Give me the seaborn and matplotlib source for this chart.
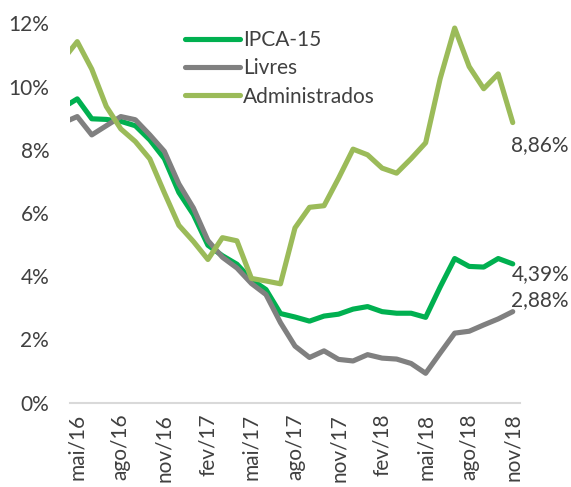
import numpy as np
import pandas as pd
import matplotlib
matplotlib.use("Agg")
import matplotlib.pyplot as plt
import seaborn as sns

# ---- data -------------------------------------------------------------
months = ["abr/16", "mai/16", "jun/16", "jul/16", "ago/16", "set/16", "out/16", "nov/16",
          "dez/16", "jan/17", "fev/17", "mar/17", "abr/17", "mai/17", "jun/17", "jul/17",
          "ago/17", "set/17", "out/17", "nov/17", "dez/17", "jan/18", "fev/18", "mar/18",
          "abr/18", "mai/18", "jun/18", "jul/18", "ago/18", "set/18", "out/18", "nov/18"]

ipca15 = [9.33, 9.61, 8.98, 8.96, 8.90, 8.76, 8.31, 7.72, 6.65, 5.95, 4.98, 4.65, 4.38,
          3.89, 3.58, 2.82, 2.71, 2.58, 2.74, 2.80, 2.96, 3.04, 2.88, 2.83, 2.83, 2.70,
          3.66, 4.56, 4.31, 4.29, 4.56, 4.39]
livres = [8.85, 9.05, 8.47, 8.76, 9.05, 8.95, 8.47, 7.95, 6.92, 6.16, 5.13, 4.60, 4.26,
          3.77, 3.42, 2.53, 1.79, 1.43, 1.64, 1.37, 1.32, 1.52, 1.41, 1.38, 1.24, 0.93,
          1.57, 2.20, 2.26, 2.46, 2.65, 2.88]
administrados = [10.84, 11.42, 10.55, 9.37, 8.66, 8.26, 7.71, 6.64, 5.61, 5.10, 4.53, 5.22,
                 5.12, 3.93, 3.85, 3.76, 5.53, 6.18, 6.23, 7.10, 8.02, 7.84, 7.42, 7.26,
                 7.72, 8.22, 10.25, 11.85, 10.63, 9.93, 10.40, 8.86]

series_names = ["IPCA-15", "Livres", "Administrados"]
tick_labels = ["mai/16", "ago/16", "nov/16", "fev/17", "mai/17", "ago/17", "nov/17",
               "fev/18", "mai/18", "ago/18", "nov/18"]
y_ticks = [0, 2, 4, 6, 8, 10, 12]

colors = {"IPCA-15": "#00B050", "Livres": "#808080", "Administrados": "#9BBB59"}

# long table; x position: 0 = mai/16 (abr/16 = -1, clipped by the axis)
pos = list(range(-1, len(months) - 1))
frames = []
for name, vals in zip(series_names, [ipca15, livres, administrados]):
    frames.append(pd.DataFrame({"pos": pos, "mes": months, "valor": vals, "serie": name}))
df = pd.concat(frames, ignore_index=True)

# ---- style ------------------------------------------------------------
sns.set_style("white")
plt.rcParams["font.family"] = ["Lato", "DejaVu Sans"]
text_color = "#404040"
fs = 15

fig = plt.figure(figsize=(5.71, 4.87), dpi=100)
ax = fig.add_axes([70 / 571, 1 - 402.7 / 487, 450 / 571, (402.7 - 23.3) / 487])

sns.lineplot(data=df, x="pos", y="valor", hue="serie", hue_order=series_names,
             palette=colors, linewidth=3.7, ax=ax, legend=True)

ax.set_xlim(-0.5, 30.5)
ax.set_ylim(0, 12)
ax.set_xlabel("")
ax.set_ylabel("")

# x axis: labels at category centres, tick marks at boundaries
ax.set_xticks(range(0, 31, 3))
ax.set_xticklabels(tick_labels, rotation=90, fontsize=fs, color=text_color)
ax.tick_params(axis="x", which="major", length=0, pad=8)
ax.set_xticks(np.arange(-0.5, 30.0, 3), minor=True)
ax.tick_params(axis="x", which="minor", length=5, width=1.5, color="#D9D9D9", direction="out")

ax.set_yticks(y_ticks)
ax.set_yticklabels([f"{v}%" for v in y_ticks], fontsize=fs, color=text_color)
ax.tick_params(axis="y", length=0, pad=15)

for side in ["left", "right", "top"]:
    ax.spines[side].set_visible(False)
ax.spines["bottom"].set_color("#D9D9D9")
ax.spines["bottom"].set_linewidth(1.5)

# legend
handles, labels = ax.get_legend_handles_labels()
ax.get_legend().remove()
leg = fig.legend(handles, labels, loc="upper left", bbox_to_anchor=(185 / 571, 1 - 30 / 487),
                 frameon=False, fontsize=fs, handlelength=2.64, handletextpad=0.15,
                 labelspacing=0.40, borderpad=0, borderaxespad=0)
for t in leg.get_texts():
    t.set_color(text_color)
for h in leg.get_lines():
    h.set_linewidth(3.7)
    h.set_solid_capstyle("round")

# end-of-series data labels
last = len(months) - 1 - 1
label_offsets = {"IPCA-15": (-1, -7.5), "Livres": (-1, 8.5), "Administrados": (-1, -16.5)}
for name, vals in zip(series_names, [ipca15, livres, administrados]):
    v = vals[-1]
    ax.annotate(f"{v:.2f}%".replace(".", ","), xy=(last, v), xytext=label_offsets[name],
                textcoords="offset points", ha="left", va="center", fontsize=fs,
                color=text_color, annotation_clip=False)

fig.savefig("out.png", dpi=100)
